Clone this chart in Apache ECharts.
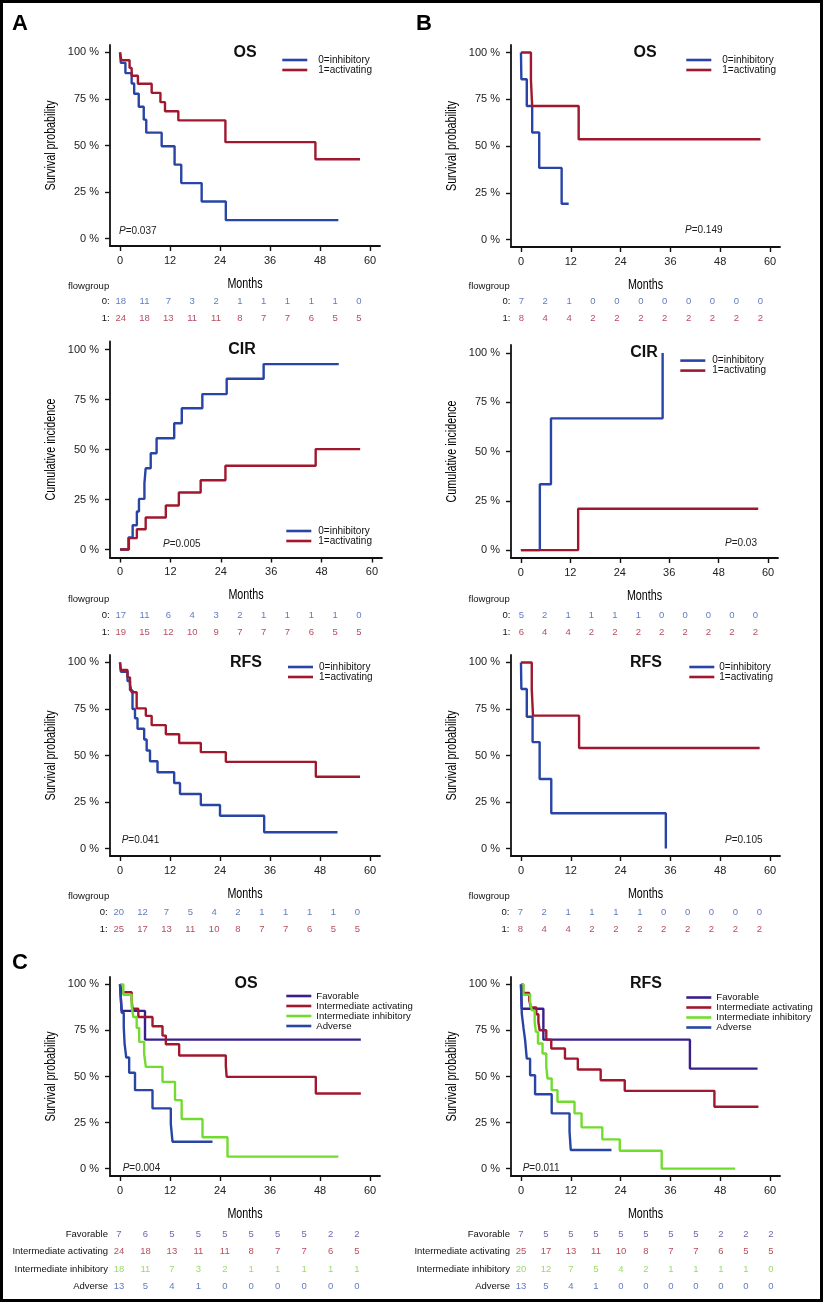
<!DOCTYPE html>
<html><head><meta charset="utf-8">
<script src="https://cdn.jsdelivr.net/npm/echarts@6/dist/echarts.min.js"></script>
<style>html,body{margin:0;padding:0;background:#fff}#c{width:825px;height:1304px}</style>
</head><body><div id="c"></div>
<script>
// ---------- tick labels / categories ----------
const monthTicks = [0, 12, 24, 36, 48, 60];
const pctTicks = [0, 25, 50, 75, 100];
const riskTimes = [0, 6, 12, 18, 24, 30, 36, 42, 48, 54, 60];
const flowLabels = ['0=inhibitory', '1=activating'];
const flowRows = ['0:', '1:'];
const riskGroups = ['Favorable', 'Intermediate activating', 'Intermediate inhibitory', 'Adverse'];

// ---------- A: OS ----------
const aOS_inhib = [[0,100],[0.2,94.4],[1.3,88.9],[2.8,83.3],[3.4,77.8],[4.5,70.8],[5.7,63.9],[6.3,56.9],[10.0,49.6],[13.1,39.7],[14.7,29.8],[19.6,19.9],[25.4,9.9],[52.4,9.9]];
const aOS_activ = [[0,100],[0.3,95.8],[2.3,91.7],[2.8,87.5],[4.3,83.2],[7.6,78.3],[9.7,73.3],[10.8,68.4],[14.0,63.5],[25.3,51.8],[46.9,42.6],[57.6,42.6]];
const aOS_risk0 = [18,11,7,3,2,1,1,1,1,1,0];
const aOS_risk1 = [24,18,13,11,11,8,7,7,6,5,5];
// ---------- B: OS ----------
const bOS_inhib = [[0,100],[0.1,85.7],[1.4,71.4],[2.7,57.2],[4.4,38.3],[9.8,19.1],[11.5,19.1]];
const bOS_activ = [[0,100],[2.4,85.7],[2.7,71.4],[13.9,53.6],[57.7,53.6]];
const bOS_risk0 = [7,2,1,0,0,0,0,0,0,0,0];
const bOS_risk1 = [8,4,4,2,2,2,2,2,2,2,2];
// ---------- A: CIR ----------
const aCIR_inhib = [[0,0],[2.0,6.0],[3.0,12.1],[4.0,19.0],[4.5,25.3],[5.8,33.1],[6.1,40.6],[7.3,48.1],[8.7,55.6],[12.9,63.1],[14.7,70.6],[19.6,77.7],[25.4,85.4],[34.2,92.7],[52.1,92.7]];
const aCIR_activ = [[0,0],[2.1,5.7],[4.0,10.1],[6.1,16.0],[10.9,22.0],[14.0,28.5],[19.2,34.6],[25.1,41.9],[46.6,50.2],[57.2,50.2]];
const aCIR_risk0 = [17,11,6,4,3,2,1,1,1,1,0];
const aCIR_risk1 = [19,15,12,10,9,7,7,7,6,5,5];
// ---------- B: CIR ----------
const bCIR_inhib = [[0,0],[4.6,33.4],[7.3,66.8],[34.4,100]];
const bCIR_activ = [[0,0],[13.9,21.0],[57.6,21.0]];
const bCIR_risk0 = [5,2,1,1,1,1,0,0,0,0,0];
const bCIR_risk1 = [6,4,4,2,2,2,2,2,2,2,2];
// ---------- A: RFS ----------
const aRFS_inhib = [[0,100],[0.2,95],[1.8,90],[2.4,85],[3.0,75],[3.6,70],[4.2,64.4],[5.8,58.6],[6.4,52.7],[7.2,46.9],[9.0,41.0],[13.0,35.2],[14.4,29.3],[19.4,23.4],[24.0,17.6],[34.6,8.8],[52.2,8.8]];
const aRFS_activ = [[0,100],[0.2,96],[1.8,92],[2.4,88],[2.8,84],[4.0,75.3],[6.2,71.3],[7.6,66.3],[11.0,61.4],[14.2,56.7],[19.4,51.8],[25.4,46.6],[47.0,38.6],[57.6,38.6]];
const aRFS_risk0 = [20,12,7,5,4,2,1,1,1,1,0];
const aRFS_risk1 = [25,17,13,11,10,8,7,7,6,5,5];
// ---------- B: RFS ----------
const bRFS_inhib = [[0,100],[0.1,85.7],[1.4,70.8],[2.8,57.2],[4.5,37.4],[7.3,19.0],[34.9,0]];
const bRFS_activ = [[0,100],[2.6,85.7],[2.9,71.4],[14.0,54.0],[57.5,54.0]];
const bRFS_risk0 = [7,2,1,1,1,1,0,0,0,0,0];
const bRFS_risk1 = [8,4,4,2,2,2,2,2,2,2,2];
// ---------- C: OS ----------
const cOS_fav = [[0,100],[0.4,85.6],[6.0,70.0],[57.8,70.0]];
const cOS_ia = [[0,100],[0.4,95.7],[2.8,91.3],[3.0,86.8],[4.4,82.3],[7.8,77.3],[10.2,72.2],[11.0,67.5],[14.2,61.4],[25.4,55.8],[25.6,49.8],[47.0,40.8],[57.8,40.8]];
const cOS_ii = [[0,100],[0.8,94.4],[2.8,88.1],[3.2,82.3],[4.0,76.4],[4.6,68.8],[5.8,62.1],[6.2,55.2],[10.2,47.1],[13.2,37.2],[14.8,26.9],[19.8,17.0],[25.8,6.5],[52.4,6.5]];
const cOS_adv = [[0,100],[0.2,92.3],[0.4,84.6],[0.9,76.9],[1.1,67.9],[1.5,60.3],[2.2,52.0],[3.6,42.6],[7.8,32.7],[12.2,24.2],[12.6,14.6],[22.2,14.6]];
const cOS_riskFav = [7,6,5,5,5,5,5,5,2,2];
const cOS_riskIA = [24,18,13,11,11,8,7,7,6,5];
const cOS_riskII = [18,11,7,3,2,1,1,1,1,1];
const cOS_riskAdv = [13,5,4,1,0,0,0,0,0,0];
// ---------- C: RFS ----------
const cRFS_fav = [[0,100],[0.2,86.8],[5.4,70.0],[40.7,54.3],[57.0,54.3]];
const cRFS_ia = [[0,100],[0.5,95.3],[2.0,91.3],[2.4,87.5],[3.7,83.8],[4.2,79.6],[4.5,75.1],[6.1,70.0],[7.3,65.2],[10.6,59.7],[13.7,53.8],[19.2,48.0],[25.0,42.2],[46.6,33.6],[57.2,33.6]];
const cRFS_ii = [[0,100],[0.6,94.4],[2.2,90.4],[2.6,85.9],[3.3,79.6],[3.6,74.2],[4.1,67.9],[5.2,62.5],[6.1,55.2],[6.4,48.9],[7.4,42.6],[8.8,36.3],[12.9,30.0],[14.6,22.4],[19.6,15.9],[23.8,9.7],[33.9,0],[51.6,0]];
const cRFS_adv = [[0,100],[0.2,84.1],[0.6,76.5],[1.0,69.7],[1.4,59.7],[2.2,50.7],[3.4,40.4],[7.4,30.0],[11.7,20.0],[12.0,10.1],[21.8,10.1]];
const cRFS_riskFav = [7,5,5,5,5,5,5,5,2,2,2];
const cRFS_riskIA = [25,17,13,11,10,8,7,7,6,5,5];
const cRFS_riskII = [20,12,7,5,4,2,1,1,1,1,0];
const cRFS_riskAdv = [13,5,4,1,0,0,0,0,0,0,0];

// ---------- styling ----------
const FONT = '"Liberation Sans", Arial, Helvetica, sans-serif';
const COL = {blue:'#2845a6', red:'#a0172e', green:'#72dc2e', purple:'#3a1f8c'};
const TXT = {blue:'#3a5ab0', red:'#a32036', green:'#7ed33e', purple:'#4b3a9a'};
const NAME_FONT = '14.5px ' + FONT;
const NAME_SQUEEZE = 0.74;

const option = {animation:false, backgroundColor:'#fff', grid:[], xAxis:[], yAxis:[], series:[], legend:[], graphic:[]};

function addPlot(p){
  const gi = option.grid.length;
  option.grid.push({left:p.left, top:p.top, width:p.w, height:p.h, outerBoundsMode:'none'});
  const al = {color:'#111', width:1.8};
  const tl = {color:'#111', width:1.4};
  option.xAxis.push({type:'value', gridIndex:gi, min:-2.4, max:62.4,
    axisLine:{show:true, onZero:false, lineStyle:al},
    axisTick:{show:true, length:5, customValues:monthTicks, lineStyle:tl},
    axisLabel:{customValues:monthTicks, fontSize:11, fontFamily:FONT, color:'#222', margin:9},
    splitLine:{show:false}});
  option.yAxis.push({type:'value', gridIndex:gi, min:-4, max:104,
    axisLine:{show:true, onZero:false, lineStyle:al},
    axisTick:{show:true, length:5, customValues:pctTicks, lineStyle:tl},
    axisLabel:{customValues:pctTicks, formatter:'{value} %', fontSize:11, fontFamily:FONT, color:'#222', margin:11},
    splitLine:{show:false}});
  p.curves.forEach((c, k) => option.series.push({type:'line', name:c.name, xAxisIndex:gi, yAxisIndex:gi,
    data:c.data, step:'end', symbol:'none', silent:true, z:2+k,
    lineStyle:{color:c.color, width:2.4}, itemStyle:{color:c.color, opacity:0}}));
  option.legend.push({orient:'vertical', left:p.leg.left, top:p.leg.top, padding:0, itemGap:0,
    itemWidth:25, itemHeight:p.leg.ih, selectedMode:false,
    itemStyle:{opacity:0, borderWidth:0},
    lineStyle:{opacity:1, width:2.6},
    data:p.curves.map(c=>c.name),
    textStyle:{fontSize:p.leg.fs, fontFamily:FONT, color:'#111', padding:[0,0,0,p.leg.pad]}});
  // axis titles in a condensed look
  option.graphic.push({type:'text', x:p.left + p.w / 2, y:p.top + p.h + 37.5, scaleX:NAME_SQUEEZE, silent:true,
    style:{text:'Months', font:NAME_FONT, fill:'#000', textAlign:'center', textVerticalAlign:'middle'}});
  option.graphic.push({type:'text', x:p.left - 59, y:p.top + p.h / 2, rotation:Math.PI / 2, scaleX:NAME_SQUEEZE, silent:true,
    style:{text:p.yname, font:NAME_FONT, fill:'#000', textAlign:'center', textVerticalAlign:'middle'}});
  option.graphic.push({type:'text', x:p.tx, y:p.ty, silent:true,
    style:{text:p.title, font:'bold 16px ' + FONT, fill:'#111', textAlign:'center', textVerticalAlign:'middle'}});
  option.graphic.push({type:'text', x:p.px, y:p.py, silent:true,
    style:{text:'{i|P}=' + p.pval, rich:{i:{fontStyle:'italic', fontSize:10, fontFamily:FONT, fill:'#222'}},
      font:'10px ' + FONT, fill:'#222', textAlign:'left', textVerticalAlign:'middle'}});
}

function addRisk(r){
  const gi = option.grid.length;
  option.grid.push({left:r.left, top:r.top, width:r.w, height:r.h, outerBoundsMode:'none'});
  option.xAxis.push({type:'value', gridIndex:gi, min:0, max:r.max, show:false});
  option.yAxis.push({type:'category', gridIndex:gi, data:r.rows, inverse:true,
    axisLine:{show:false}, axisTick:{show:false}, splitLine:{show:false},
    axisLabel:{fontSize:9.5, fontFamily:FONT, color:'#111', margin:11}});
  r.counts.forEach((arr, k) => option.series.push({type:'scatter', xAxisIndex:gi, yAxisIndex:gi, silent:true,
    symbolSize:1, itemStyle:{color:'rgba(0,0,0,0)'},
    data:arr.map((v,i)=>[riskTimes[i], r.rows[k], v]),
    label:{show:true, position:'inside', formatter:q=>String(q.value[2]), fontSize:9.5, fontFamily:FONT, color:r.colors[k]}}));
  if (r.head) option.graphic.push({type:'text', x:r.head.x, y:r.head.y, silent:true,
    style:{text:'flowgroup', font:'9.5px ' + FONT, fill:'#111', textAlign:'left', textVerticalAlign:'middle'}});
}

const two = (d0, d1) => [{name:flowLabels[0], data:d0, color:COL.blue}, {name:flowLabels[1], data:d1, color:COL.red}];
const four = (a, b, c, d) => [{name:riskGroups[0], data:a, color:COL.purple}, {name:riskGroups[1], data:b, color:COL.red},
                              {name:riskGroups[2], data:c, color:COL.green}, {name:riskGroups[3], data:d, color:COL.blue}];

addPlot({left:110, top:45, w:270, h:201, title:'OS', tx:245, ty:53, yname:'Survival probability',
  curves:two(aOS_inhib, aOS_activ), leg:{left:281, top:55, ih:12, pad:6, fs:10}, pval:'0.037', px:119, py:231});
addPlot({left:511, top:45, w:269, h:202, title:'OS', tx:645, ty:53, yname:'Survival probability',
  curves:two(bOS_inhib, bOS_activ), leg:{left:685, top:55, ih:11, pad:6, fs:10}, pval:'0.149', px:685, py:230});
addPlot({left:110, top:341.5, w:272, h:216, title:'CIR', tx:242, ty:350, yname:'Cumulative incidence',
  curves:two(aCIR_inhib, aCIR_activ), leg:{left:285, top:526, ih:11.6, pad:2, fs:10}, pval:'0.005', px:163, py:544});
addPlot({left:511, top:345, w:267, h:213, title:'CIR', tx:644, ty:353, yname:'Cumulative incidence',
  curves:two(bCIR_inhib, bCIR_activ), leg:{left:679, top:355.6, ih:10.7, pad:2, fs:10}, pval:'0.03', px:725, py:543});
addPlot({left:110, top:655, w:270, h:201, title:'RFS', tx:246, ty:663, yname:'Survival probability',
  curves:two(aRFS_inhib, aRFS_activ), leg:{left:286.7, top:662, ih:11.6, pad:1, fs:10}, pval:'0.041', px:121.7, py:840});
addPlot({left:511, top:655, w:269, h:201, title:'RFS', tx:646, ty:663, yname:'Survival probability',
  curves:two(bRFS_inhib, bRFS_activ), leg:{left:688, top:662, ih:11.6, pad:0, fs:10}, pval:'0.105', px:725, py:840});
addPlot({left:110, top:977, w:270, h:199, title:'OS', tx:246, ty:984, yname:'Survival probability',
  curves:four(cOS_fav, cOS_ia, cOS_ii, cOS_adv), leg:{left:285, top:991, ih:10.1, pad:0, fs:9.6}, pval:'0.004', px:122.7, py:1168.7});
addPlot({left:511, top:977, w:269, h:199, title:'RFS', tx:646, ty:984, yname:'Survival probability',
  curves:four(cRFS_fav, cRFS_ia, cRFS_ii, cRFS_adv), leg:{left:685, top:992.5, ih:10.3, pad:0, fs:9.6}, pval:'0.011', px:522.7, py:1168.7});

addRisk({left:120.7, w:238.3, max:60, top:292.5, h:34, rows:flowRows, counts:[aOS_risk0, aOS_risk1], colors:[TXT.blue, TXT.red], head:{x:68, y:286}});
addRisk({left:521.3, w:239, max:60, top:293, h:34, rows:flowRows, counts:[bOS_risk0, bOS_risk1], colors:[TXT.blue, TXT.red], head:{x:468.5, y:286}});
addRisk({left:120.7, w:238.3, max:60, top:607.4, h:33.2, rows:flowRows, counts:[aCIR_risk0, aCIR_risk1], colors:[TXT.blue, TXT.red], head:{x:68, y:599}});
addRisk({left:521.3, w:234, max:60, top:607.4, h:33.2, rows:flowRows, counts:[bCIR_risk0, bCIR_risk1], colors:[TXT.blue, TXT.red], head:{x:468.5, y:599}});
addRisk({left:118.7, w:238.6, max:60, top:904.4, h:33.2, rows:flowRows, counts:[aRFS_risk0, aRFS_risk1], colors:[TXT.blue, TXT.red], head:{x:68, y:896}});
addRisk({left:520.3, w:239, max:60, top:904.4, h:33.2, rows:flowRows, counts:[bRFS_risk0, bRFS_risk1], colors:[TXT.blue, TXT.red], head:{x:468.5, y:896}});
addRisk({left:119, w:238, max:54, top:1225.6, h:69.9, rows:riskGroups, counts:[cOS_riskFav, cOS_riskIA, cOS_riskII, cOS_riskAdv], colors:[TXT.purple, TXT.red, TXT.green, TXT.blue]});
addRisk({left:521, w:250, max:60, top:1225.6, h:69.9, rows:riskGroups, counts:[cRFS_riskFav, cRFS_riskIA, cRFS_riskII, cRFS_riskAdv], colors:[TXT.purple, TXT.red, TXT.green, TXT.blue]});

// panel letters and frame
[['A', 20, 24], ['B', 424, 24], ['C', 20, 963]].forEach(([t, x, y]) => option.graphic.push({type:'text', x, y, silent:true,
  style:{text:t, font:'bold 22px ' + FONT, fill:'#000', textAlign:'center', textVerticalAlign:'middle'}}));
option.graphic.push({type:'rect', silent:true, z:-1, shape:{x:1.5, y:1.5, width:820, height:1299},
  style:{fill:'none', stroke:'#000', lineWidth:3}});

const chart = echarts.init(document.getElementById('c'), null, {renderer:'canvas'});
chart.setOption(option);
</script></body></html>
